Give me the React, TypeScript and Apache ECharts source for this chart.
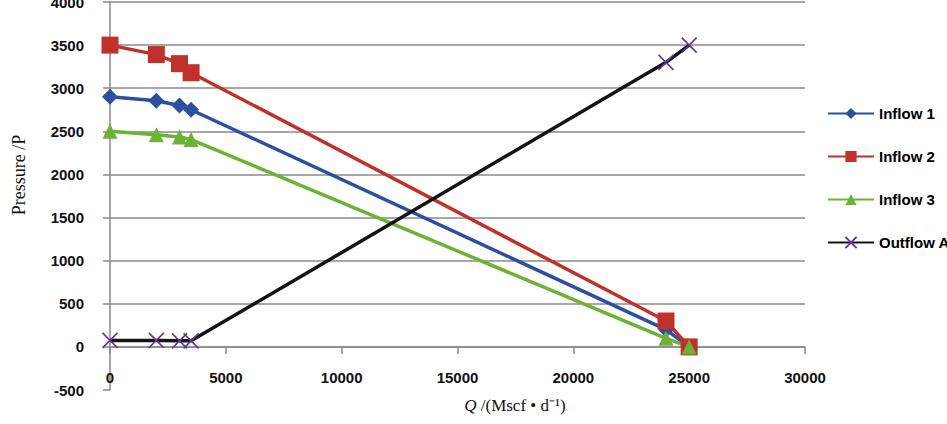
import React, { useEffect, useRef } from "react";
import * as echarts from "echarts";

const seriesNames = ["Inflow 1", "Inflow 2", "Inflow 3", "Outflow A"];
const qValues = [0, 2000, 3000, 3500, 24000, 25000];
const inflow1 = [2900, 2855, 2800, 2750, 200, 0];
const inflow2 = [3500, 3390, 3285, 3180, 300, 0];
const inflow3 = [2500, 2460, 2435, 2405, 100, 0];
const outflowA = [75, 75, 70, 70, 3300, 3500];
const yTicks = { min: -500, max: 4000, interval: 500 };
const xTicks = { min: 0, max: 30000, interval: 5000 };

const pair = (ys: number[]) => qValues.map((x, i) => [x, ys[i]]);

export default function App() {
  const ref = useRef<HTMLDivElement>(null);
  useEffect(() => {
    if (!ref.current) return;
    const chart = echarts.init(ref.current, null, { renderer: "svg" });
    const axisGray = "#8a8a8a";
    const labelFont = {
      fontFamily: "Liberation Sans, Arial, sans-serif",
      fontSize: 15,
      fontWeight: "bold" as const,
      color: "#111",
    };
    const splitColors = Array.from({ length: 10 }, (_, i) => (i === 0 ? "rgba(0,0,0,0)" : axisGray));
    const mk = (name: string, ys: number[], color: string, symbol: string, size: number, extra: any = {}) => ({
      name,
      type: "line",
      data: pair(ys),
      symbol,
      symbolSize: size,
      lineStyle: { color: extra.lineColor || color, width: 3.5 },
      itemStyle: extra.itemStyle || { color },
    });
    chart.setOption({
      animation: false,
      grid: { left: 110, right: 142, top: 2, bottom: 34, outerBoundsMode: "none", containLabel: false },
      legend: {
        orient: "vertical",
        left: 827,
        top: 106,
        padding: 0,
        itemWidth: 46,
        itemHeight: 14,
        itemGap: 28,
        textStyle: { ...labelFont, color: "#000" },
        data: seriesNames,
      },
      xAxis: {
        type: "value",
        min: xTicks.min,
        max: xTicks.max,
        interval: xTicks.interval,
        axisLine: { show: true, onZero: true, lineStyle: { color: axisGray, width: 1.5 } },
        axisTick: { show: true, length: 7, lineStyle: { color: axisGray, width: 1.5 } },
        axisLabel: { ...labelFont, margin: -20, formatter: (v: number) => String(v) },
        splitLine: { show: false },
      },
      yAxis: {
        type: "value",
        min: yTicks.min,
        max: yTicks.max,
        interval: yTicks.interval,
        axisLine: { show: true, onZero: false, lineStyle: { color: axisGray, width: 1.5 } },
        axisTick: { show: true, length: 7, lineStyle: { color: axisGray, width: 1.5 } },
        axisLabel: { ...labelFont, margin: 26, formatter: (v: number) => String(v) },
        splitLine: { show: true, lineStyle: { color: splitColors, width: 1.5 } },
      },
      graphic: [
        {
          type: "text",
          x: 19,
          y: 175,
          rotation: Math.PI / 2,
          style: {
            text: "Pressure /P",
            fontFamily: "Liberation Serif, serif",
            fontSize: 18,
            fill: "#111",
            align: "center",
            verticalAlign: "middle",
          },
        },
        {
          type: "text",
          x: 515,
          y: 405,
          style: {
            text: "{i|Q}{n| /(Mscf • d⁻¹)}",
            fontFamily: "Liberation Serif, serif",
            fontSize: 17,
            fill: "#111",
            align: "center",
            verticalAlign: "middle",
            rich: {
              i: { fontStyle: "italic", fontFamily: "Liberation Serif, serif", fontSize: 17 },
              n: { fontFamily: "Liberation Serif, serif", fontSize: 17 },
            },
          },
        },
      ],
      series: [
        mk(seriesNames[0], inflow1, "#2c4f9e", "diamond", 16),
        mk(seriesNames[1], inflow2, "#c0312b", "rect", 17),
        mk(seriesNames[2], inflow3, "#6db234", "triangle", 15),
        mk(seriesNames[3], outflowA, "#5b3c8e", "path://M0,0L10,10M10,0L0,10", 15, {
          lineColor: "#141414",
          itemStyle: { color: "#5b3c8e", borderColor: "#5b3c8e", borderWidth: 1.6 },
        }),
      ],
    });
    return () => chart.dispose();
  }, []);
  return <div ref={ref} style={{ position: "fixed", left: 0, top: 0, width: 947, height: 424, background: "#fff" }} />;
}
